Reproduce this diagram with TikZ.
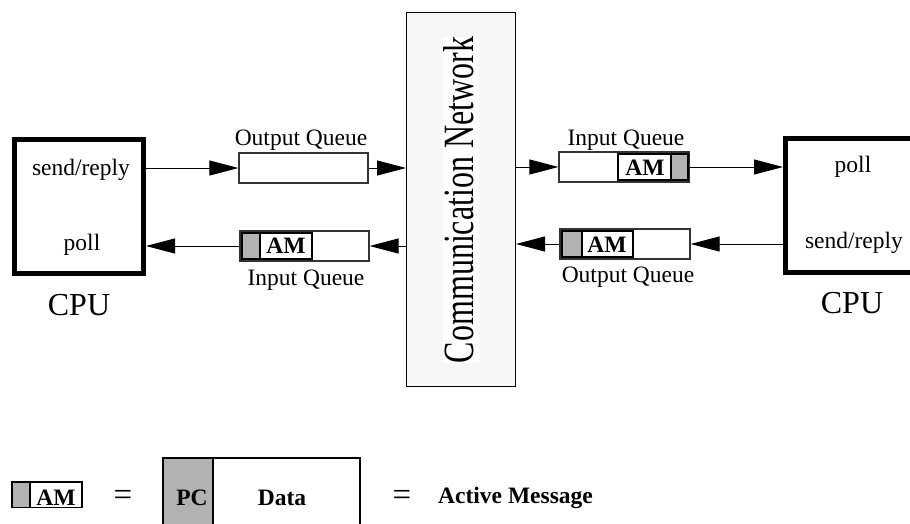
\documentclass[tikz,border=0pt]{standalone}
\usepackage{fontspec}
\setmainfont{Liberation Serif}
\usetikzlibrary{arrows.meta}
\begin{document}
\begin{tikzpicture}[x=1pt,y=-1pt,
  lbl/.style={font=\fontsize{23.5}{28}\selectfont, inner sep=0, anchor=base},
  bigtxt/.style={font=\fontsize{32}{38}\selectfont, inner sep=0, anchor=base},
  boldtxt/.style={font=\fontsize{23.5}{28}\selectfont\bfseries, inner sep=0, anchor=base},
  eqsign/.style={font=\fontsize{33}{38}\selectfont, inner sep=0, anchor=base},
  cpubox/.style={draw, line width=5pt, inner sep=0, minimum height=134pt},
  queue/.style={draw=black!80, line width=1.2pt, fill=white, inner sep=0,
                minimum width=129pt, minimum height=30pt},
  flow/.style={line width=1pt, -{Triangle[length=29pt,width=15pt]}},
  pccell/.style={fill=gray!60, draw=black, line width=1.2pt},
  amcell/.style={fill=white, draw=black, line width=1.2pt},
]
\useasboundingbox (0,0) rectangle (910,523);
\clip (0,0) rectangle (910,523);

% processors
\node[cpubox, minimum width=129pt] (cpuL) at (79,206.5) {};
\node[cpubox, minimum width=150pt] (cpuR) at (860.5,205.5) {};

\node[lbl] (sendL) at (81,175) {send/reply};
\node[lbl] (pollL) at (82,250) {poll};
\node[bigtxt] (cpuLlbl) at (79,315) {CPU};

\node[lbl] (pollR) at (853,172) {poll};
\node[lbl] (sendR) at (854,248) {send/reply};
\node[bigtxt] (cpuRlbl) at (852,313) {CPU};

% network
\node[draw, line width=1pt, fill=gray!6, inner sep=0,
      minimum width=109pt, minimum height=374.5pt] (net) at (461,199.5) {};
\node[rotate=90, fill=white, inner sep=0, text height=30pt, text depth=6pt,
      font=\fontsize{32}{38}\selectfont] (netlbl) at (461,200)
      {\scalebox{1}[1.35]{Communication Network}};

% queues
\node[queue] (qLo) at (303.5,168) {};
\node[queue] (qLi) at (304.5,246) {};
\node[queue, minimum width=130pt] (qRi) at (624,167) {};
\node[queue, minimum width=130pt] (qRo) at (625,244) {};

\node[lbl] (qLolbl) at (301,145) {Output Queue};
\node[lbl] (qLilbl) at (306,285) {Input Queue};
\node[lbl] (qRilbl) at (626,145) {Input Queue};
\node[lbl] (qRolbl) at (628,282) {Output Queue};

% messages waiting in the queues
\draw[pccell] (242,233) rectangle (260,259);
\draw[amcell] (260,233) rectangle (312,259);
\node[boldtxt] (amLi) at (286,253) {AM};

\draw[amcell] (618,154) rectangle (671,180);
\draw[pccell] (671,154) rectangle (688,180);
\node[boldtxt] (amRi) at (645,175) {AM};

\draw[pccell] (562,231) rectangle (582,257);
\draw[amcell] (582,231) rectangle (633,257);
\node[boldtxt] (amRo) at (607,252) {AM};

% message flow
\draw[flow] (cpuL.east |- qLo.west) -- (qLo.west);
\draw[flow] (qLo.east) -- (net.west |- qLo.east);
\draw[flow] (net.west |- qLi.east) -- (qLi.east);
\draw[flow] (qLi.west) -- (cpuL.east |- qLi.west);
\draw[flow] (net.east |- qRi.west) -- (qRi.west);
\draw[flow] (qRi.east) -- (cpuR.west |- qRi.east);
\draw[flow] (cpuR.west |- qRo.east) -- (qRo.east);
\draw[flow] (qRo.west) -- (net.east |- qRo.west);

% legend
\draw[pccell] (12,482) rectangle (30,507.5);
\draw[amcell] (30,482) rectangle (82,507.5);
\node[boldtxt] (amLeg) at (56,505.5) {AM};
\node[eqsign] (eq1) at (123,505.4) {=};

\fill[gray!60] (163,458) rectangle (213,540);
\draw[line width=1.2pt] (163,458) rectangle (360,540);
\draw[line width=1.2pt] (213,458) -- (213,540);
\node[boldtxt] (pc) at (192,505) {PC};
\node[boldtxt] (data) at (282,505) {Data};

\node[eqsign] (eq2) at (402,505.4) {=};
\node[boldtxt, anchor=base west] (amdef) at (438,503) {Active Message};
\end{tikzpicture}
\end{document}
